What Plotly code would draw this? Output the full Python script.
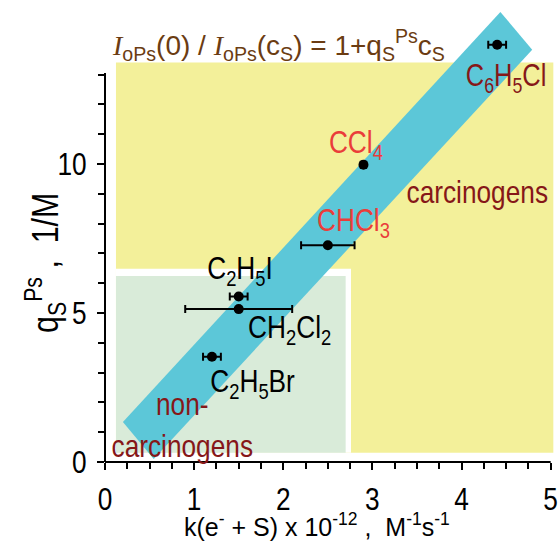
import plotly.graph_objects as go

# ---- data ----
compounds = ["C6H5Cl", "CCl4", "CHCl3", "C2H5I", "CH2Cl2", "C2H5Br"]
k_rate = [4.40, 2.90, 2.50, 1.50, 1.50, 1.20]
k_err = [0.10, 0.03, 0.30, 0.10, 0.60, 0.10]
q_ps = [14.0, 9.97, 7.27, 5.55, 5.13, 3.53]

x_major = [0, 1, 2, 3, 4, 5]
x_minor = [i * 0.25 for i in range(21) if i % 4 != 0]
y_major = [0, 5, 10]
y_minor = [v for v in range(1, 14) if v % 5 != 0]

FONT = "Liberation Sans, Arial, sans-serif"
BROWN = "#6B3C12"
DKRED = "#861718"
RED = "#EA3D3A"

XR = [0, 5.06]
YR = [0, 15.5]

fig = go.Figure()

fig.add_trace(go.Scatter(
    x=k_rate, y=q_ps, mode="markers",
    marker=dict(color="black", size=10),
    error_x=dict(type="data", array=k_err, color="black", thickness=2, width=4),
    showlegend=False, cliponaxis=False,
))

shapes = []
shapes.append(dict(type="rect", xref="x", yref="y", x0=0.123, x1=5.03, y0=0.31, y1=13.4,
                   fillcolor="#F3F09A", line=dict(width=0), layer="below"))
shapes.append(dict(type="rect", xref="x", yref="y", x0=0.123, x1=2.76, y0=0.31, y1=6.48,
                   fillcolor="white", line=dict(width=0), layer="below"))
shapes.append(dict(type="rect", xref="x", yref="y", x0=0.123, x1=2.70, y0=0.31, y1=6.24,
                   fillcolor="#D9EBD9", line=dict(width=0), layer="below"))
band = [(0.201, 1.342), (4.436, 15.10), (4.793, 13.83), (0.547, 0.101)]
path = "M " + " L ".join(f"{a},{b}" for a, b in band) + " Z"
shapes.append(dict(type="path", xref="x", yref="y", path=path,
                   fillcolor="#5CC7D8", line=dict(width=0), layer="below"))
shapes.append(dict(type="line", xref="paper", yref="paper", x0=0, x1=0,
                   y0=0, y1=13.05 / YR[1], line=dict(color="black", width=2)))
shapes.append(dict(type="line", xref="paper", yref="paper", x0=0, x1=5.0 / XR[1],
                   y0=0, y1=0, line=dict(color="black", width=2)))

ann = []
def lab(x, y, text, color, size=32):
    ann.append(dict(x=x, y=y, xref="x", yref="y", text=text, showarrow=False,
                    font=dict(family=FONT, size=size, color=color),
                    xanchor="center", yanchor="middle"))

lab(4.50, 12.88, "C<sub>6</sub>H<sub>5</sub>Cl", DKRED, 31)
lab(2.82, 10.64, "CCl<sub>4</sub>", RED)
lab(2.79, 8.02, "CHCl<sub>3</sub>", RED)
lab(4.18, 9.05, "carcinogens", DKRED)
lab(1.52, 6.44, "C<sub>2</sub>H<sub>5</sub>I", "black")
lab(2.07, 4.43, "CH<sub>2</sub>Cl<sub>2</sub>", "black")
lab(1.65, 2.65, "C<sub>2</sub>H<sub>5</sub>Br", "black")
lab(0.87, 1.24, "non-<br>carcinogens", DKRED)

title = ('<span style="font-family:Liberation Serif;font-style:italic">I</span><sub>oPs</sub>(0) / '
         '<span style="font-family:Liberation Serif;font-style:italic">I</span><sub>oPs</sub>(c<sub>S</sub>)'
         ' = 1+q<sub>S</sub><sup>Ps</sup>c<sub>S</sub>')
ann.append(dict(x=(110 - 105) / 452.9, y=(462 - 45) / 462, xref="paper", yref="paper",
                text=title, showarrow=False,
                font=dict(family=FONT, size=28, color=BROWN), xanchor="left", yanchor="middle"))

ann.append(dict(x=(318 - 105) / 452.9, y=-(525 - 462) / 462, xref="paper", yref="paper",
                text="k(e<sup>-</sup> + S) x 10<sup>-12</sup> ,  M<sup>-1</sup>s<sup>-1</sup>",
                showarrow=False, font=dict(family=FONT, size=25, color="black"),
                xanchor="center", yanchor="middle"))
ann.append(dict(x=(44 - 105) / 452.9, y=(462 - 263) / 462, xref="paper", yref="paper",
                text="q<sub>S</sub><sup>Ps</sup> ,  1/M", textangle=-90,
                showarrow=False, font=dict(family=FONT, size=37, color="black"),
                xanchor="center", yanchor="middle"))

fig.update_layout(
    width=560, height=544,
    margin=dict(l=105, r=560 - 105 - 452.9, t=0, b=82),
    paper_bgcolor="white", plot_bgcolor="white",
    shapes=shapes, annotations=ann,
    font=dict(family=FONT, size=32, color="black"),
    xaxis=dict(range=XR, showgrid=False, zeroline=False, showline=False,
               tickmode="array", tickvals=x_major, ticks="outside", ticklen=7,
               tickwidth=1.5, tickcolor="black", ticklabelstandoff=2,
               ticklabeloverflow="allow",
               minor=dict(tickmode="array", tickvals=x_minor, ticks="outside",
                          ticklen=6, tickwidth=1.5, tickcolor="black", showgrid=False)),
    yaxis=dict(range=YR, showgrid=False, zeroline=False, showline=False,
               tickmode="array", tickvals=y_major, ticks="outside", ticklen=7,
               tickwidth=1.5, tickcolor="black", ticklabelstandoff=4,
               ticklabeloverflow="allow",
               minor=dict(tickmode="array", tickvals=y_minor, ticks="outside",
                          ticklen=6, tickwidth=1.5, tickcolor="black", showgrid=False)),
)

# page margin off, and narrow the glyphs (the reference uses a condensed face)
post = """
document.body.style.margin='0px';
function squeezeEl(el){
  var L = el.getComputedTextLength();
  if (L > 0) { el.setAttribute('textLength', (L*0.82).toFixed(2)); el.setAttribute('lengthAdjust','spacingAndGlyphs'); }
}
function squeeze(){
  document.querySelectorAll('svg.main-svg text').forEach(function(t){
    if (t.getAttribute('data-sq')) return;
    t.setAttribute('data-sq','1');
    var s = t.textContent || '';
    if (s.indexOf('=') >= 0 || s.indexOf('k(') >= 0) return;
    var lines = t.querySelectorAll('tspan.line');
    if (lines.length) { lines.forEach(squeezeEl); } else { squeezeEl(t); }
  });
}
squeeze();
setTimeout(squeeze, 30);
"""
fig.write_html("out.html", post_script=post, config={"displayModeBar": False})
